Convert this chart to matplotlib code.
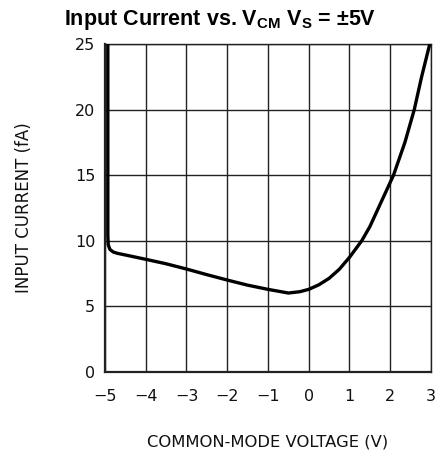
import numpy as np
import matplotlib
matplotlib.use("Agg")
import matplotlib.pyplot as plt

plt.rcParams["mathtext.fontset"] = "custom"
plt.rcParams["mathtext.rm"] = "Liberation Sans"
plt.rcParams["mathtext.bf"] = "Liberation Sans:bold"

# values
vcm = [-4.93, -4.93, -4.92, -4.88, -4.80, -4.70, -4.50, -4.00, -3.50, -3.00,
       -2.50, -2.00, -1.50, -1.00, -0.50, -0.22, 0.00, 0.25, 0.50, 0.75,
       1.00, 1.30, 1.50, 1.71, 2.08, 2.36, 2.59, 2.77, 2.97]
i_in = [25.0, 10.4, 9.7, 9.35, 9.15, 9.05, 8.92, 8.59, 8.25, 7.85,
        7.42, 7.01, 6.62, 6.30, 6.02, 6.12, 6.30, 6.65, 7.14, 7.83,
        8.74, 10.0, 11.08, 12.5, 15.0, 17.5, 20.0, 22.5, 25.0]

xticks = [-5, -4, -3, -2, -1, 0, 1, 2, 3]
yticks = [0, 5, 10, 15, 20, 25]

fig = plt.figure(figsize=(4.4, 4.5), dpi=100)
ax = fig.add_axes([0.2386, 0.1733, 0.7409, 0.7289])

ax.plot(vcm, i_in, color="black", lw=2.4, solid_capstyle="butt",
        solid_joinstyle="round", zorder=3)

ax.set_xlim(-5, 3)
ax.set_ylim(0, 25)
ax.set_xticks(xticks)
ax.set_yticks(yticks)
ax.set_xticklabels([str(t).replace("-", "\u2212") for t in xticks])
ax.grid(True, color="#222222", lw=1.0)
ax.tick_params(length=0, labelsize=11.5, labelcolor="#111111")
ax.tick_params(axis="y", pad=7)
ax.tick_params(axis="x", pad=12)
for s in ax.spines.values():
    s.set_linewidth(1.0)
    s.set_color("#222222")
ax.spines["left"].set_linewidth(1.6)
ax.spines["bottom"].set_linewidth(1.6)

ax.set_xlabel("COMMON-MODE VOLTAGE (V)", fontsize=11.8, color="#111111",
              labelpad=22)
ax.set_ylabel("INPUT CURRENT (fA)", fontsize=12, color="#111111",
              labelpad=30)

fig.suptitle(r"Input Current vs. V$_{\mathbf{CM}}$ V$_{\mathbf{S}}$ = ±5V",
             x=0.5, y=0.982, fontsize=15.5, fontweight="bold",
             family="Liberation Sans", va="top")

fig.savefig("out.png", dpi=100)
